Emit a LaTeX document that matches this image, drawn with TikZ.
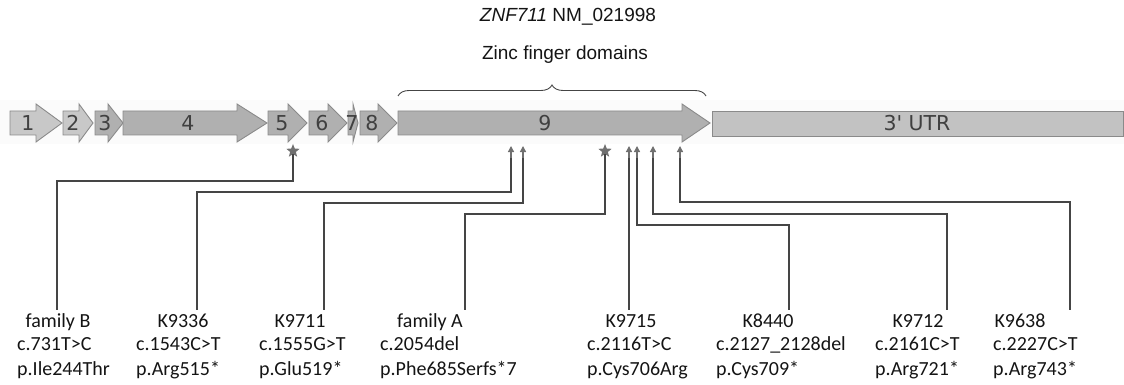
\documentclass[tikz,border=0pt]{standalone}
\usepackage{fontspec}
\setmainfont{Carlito}
\newfontfamily\titlefont{Liberation Sans}
\newfontfamily\exonfont{DejaVu Sans}
\usetikzlibrary{arrows.meta,shapes.geometric,decorations.pathreplacing}

\definecolor{exonlight}{HTML}{C8C8C8}
\definecolor{exondark}{HTML}{B0B0B0}
\definecolor{utrfill}{HTML}{C2C2C2}
\definecolor{exonline}{HTML}{8A8A8A}
\definecolor{markgray}{HTML}{707070}
\definecolor{linegray}{HTML}{454545}
\definecolor{bandgray}{HTML}{FBFBFB}
\definecolor{textgray}{HTML}{141414}

\tikzset{
  exonbox/.style={draw=exonline, line width=0.9},
  exonlabel/.style={font=\exonfont\fontsize{20.5}{20}\selectfont, text=black!75, inner sep=0},
  titletext/.style={font=\titlefont\fontsize{19}{23}\selectfont, text=textgray, inner sep=0},
  zfbrace/.style={draw=linegray, line width=0.9, decorate, decoration={brace, amplitude=11}},
  mutstar/.style={star, star points=5, star point ratio=2.3, fill=markgray, minimum size=14, inner sep=0},
  mutarrow/.style={draw=markgray, line width=1.3, -{Triangle[width=6,length=6]}},
  conn/.style={draw=linegray, line width=1.1},
  labeltext/.style={font=\fontsize{20}{24}\selectfont, text=textgray, inner sep=0, anchor=base},
  vartext/.style={labeltext, anchor=base west}
}

\begin{document}
\begin{tikzpicture}[x=1pt, y=-1pt]
	\useasboundingbox (0,0) rectangle (1124,385);
	% faint band behind the transcript
	\fill[bandgray] (0,100) rectangle (1124,144);

	% exons 1-9
	\foreach \xa/\xb/\xc/\col/\num/\lx in {10/36/62/exonlight/1/28, 63/79/93/exonlight/2/73,
		95/108/123/exondark/3/105, 123/237/267/exondark/4/188, 268/288/307/exondark/5/282,
		309/328/347/exondark/6/322, 348/353/358/exondark/7/352, 360/378/397/exondark/8/372,
		398/682/710/exondark/9/545}{
		\draw[exonbox, fill=\col] (\xa,111) -- (\xb,111) -- (\xb,104) -- (\xc,123)
			-- (\xb,142) -- (\xb,135) -- (\xa,135) -- cycle;
		\node[exonlabel] (ex\num) at (\lx,123) {\num};
	}
	\draw[exonbox, fill=utrfill] (712,111) rectangle (1123,136);
	\node[exonlabel] (utr) at (917,123.5) {3' UTR};

	% titles and zinc finger brace
	\node[titletext] (gene) at (568,17) {\textit{ZNF711} NM\_021998};
	\node[titletext] (zfd) at (565,55) {Zinc finger domains};
	\draw[zfbrace] (398,96) -- (706,96);

	% mutation markers
	\node[mutstar] (mk1) at (293,151) {};
	\coordinate (mk2) at (511,158);
	\coordinate (mk3) at (523,158);
	\node[mutstar] (mk4) at (605,151) {};
	\coordinate (mk5) at (629,158);
	\coordinate (mk6) at (637,158);
	\coordinate (mk7) at (653,158);
	\coordinate (mk8) at (680,158);
	\foreach \i in {2,3,5,6,7,8}
		\draw[mutarrow] (mk\i) -- ++(0,-12);

	% connectors and labels
	\foreach \hy/\ex/\cx/\lx/\name/\cdna/\prot [count=\i] in {
		181/57/58/17/family B/c.731T>C/p.Ile244Thr,
		192/197/183/136/K9336/c.1543C>T/p.Arg515*,
		203/324/300/259/K9711/c.1555G>T/p.Glu519*,
		214/465/430/380/family A/c.2054del/p.Phe685Serfs*7,
		214/629/631/587/K9715/c.2116T>C/p.Cys706Arg,
		225/789/768/716/K8440/c.2127\_2128del/p.Cys709*,
		214/947/918/875/K9712/c.2161C>T/p.Arg721*,
		202/1070/1020/993/K9638/c.2227C>T/p.Arg743*}{
		\coordinate (end\i) at (\ex,310);
		\draw[conn] (mk\i.south) -- (mk\i.south |- 0,\hy) -| (end\i);
		\node[labeltext] (id\i) at (\cx,327) {\name};
		\node[vartext] (cdna\i) at (\lx,350) {\cdna};
		\node[vartext] (prot\i) at (\lx,375) {\prot};
	}
\end{tikzpicture}
\end{document}
